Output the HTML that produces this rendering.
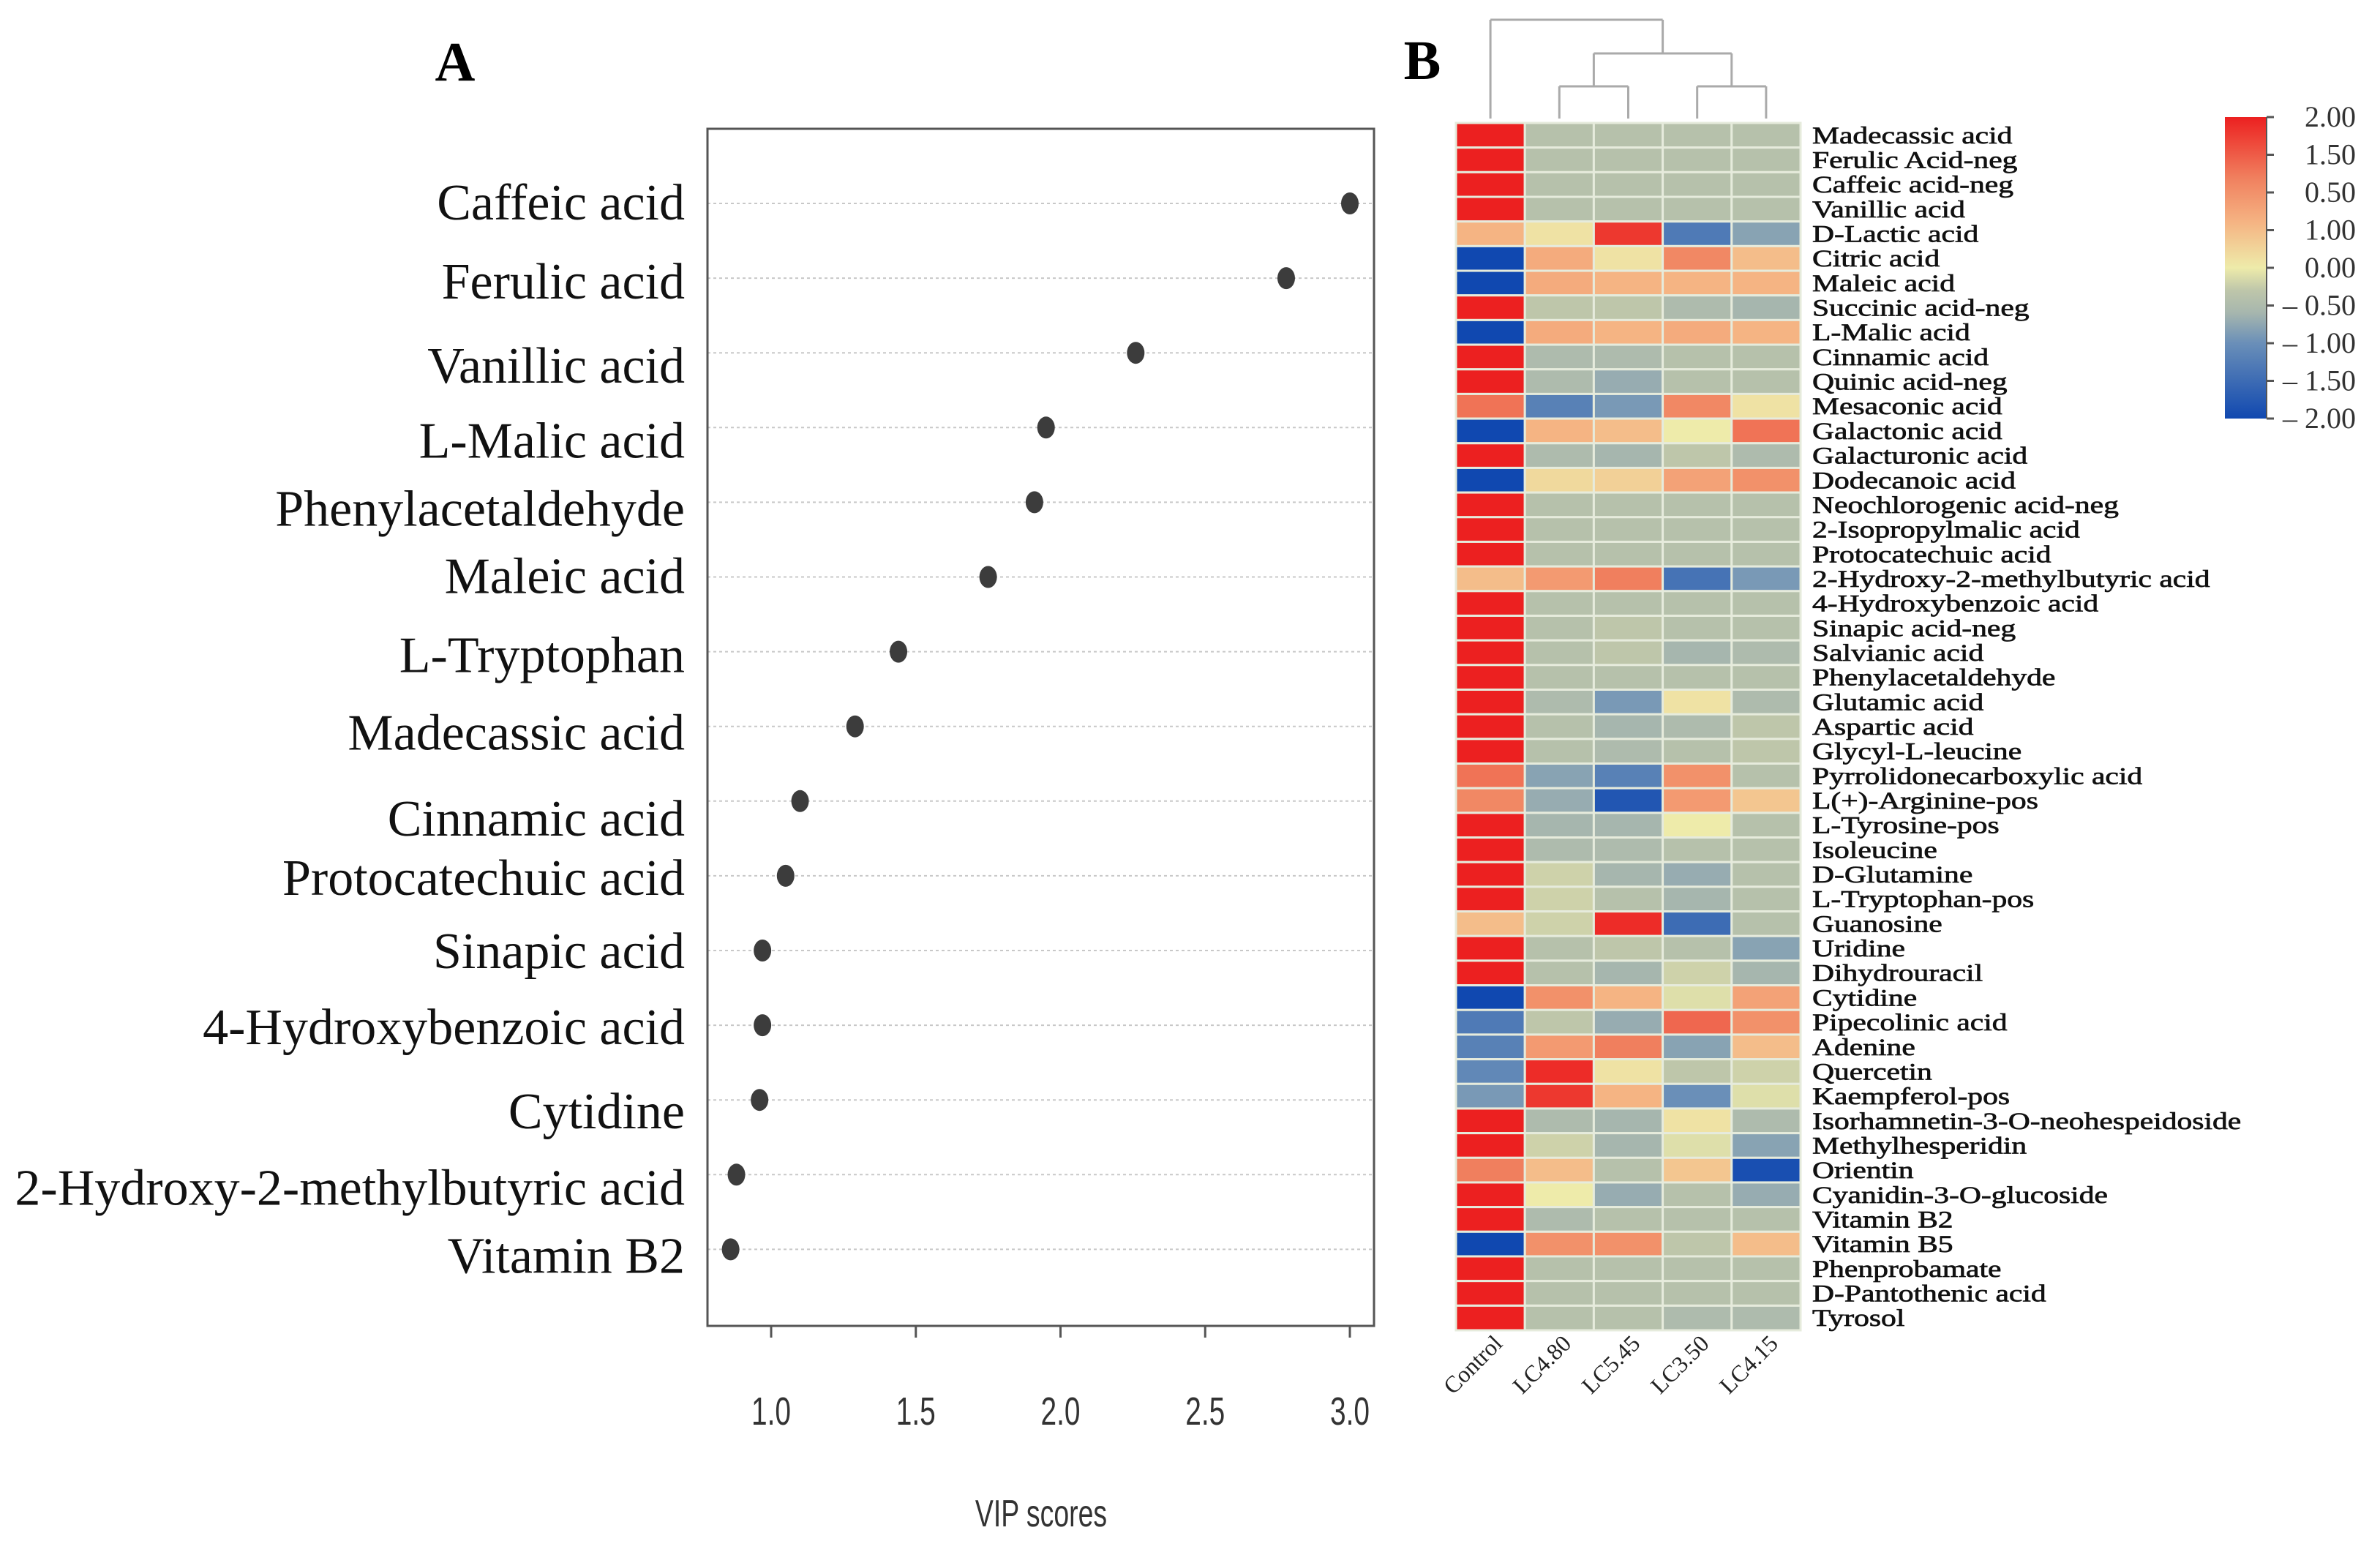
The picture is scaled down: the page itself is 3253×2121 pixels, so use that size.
<!DOCTYPE html>
<html><head><meta charset="utf-8">
<style>
html,body{margin:0;padding:0;background:#fff;}
svg{display:block;}
.serif{font-family:"Liberation Serif","DejaVu Serif",serif;}
.sans{font-family:"Liberation Sans","DejaVu Sans",sans-serif;}
</style></head>
<body>
<svg id="fig" width="3253" height="2121" viewBox="0 0 3253 2121" xmlns="http://www.w3.org/2000/svg">
<g id="panelA"></g>
<g id="panelB"></g>
</svg>
<script>
// ---- Panel A data ----
const vipNames = ["Caffeic acid","Ferulic acid","Vanillic acid","L-Malic acid","Phenylacetaldehyde","Maleic acid","L-Tryptophan","Madecassic acid","Cinnamic acid","Protocatechuic acid","Sinapic acid","4-Hydroxybenzoic acid","Cytidine","2-Hydroxy-2-methylbutyric acid","Vitamin B2"];
const vipScores = [3.00,2.78,2.26,1.95,1.91,1.75,1.44,1.29,1.10,1.05,0.97,0.97,0.96,0.88,0.86];
const vipTicks = [1.0,1.5,2.0,2.5,3.0];
const vipTickLabels = ["1.0","1.5","2.0","2.5","3.0"];

// ---- Panel B data ----
const hmCols = ["Control","LC4.80","LC5.45","LC3.50","LC4.15"];
const hmRows = ["Madecassic acid","Ferulic Acid-neg","Caffeic acid-neg","Vanillic acid","D-Lactic acid","Citric acid","Maleic acid","Succinic acid-neg","L-Malic acid","Cinnamic acid","Quinic acid-neg","Mesaconic acid","Galactonic acid","Galacturonic acid","Dodecanoic acid","Neochlorogenic acid-neg","2-Isopropylmalic acid","Protocatechuic acid","2-Hydroxy-2-methylbutyric acid","4-Hydroxybenzoic acid","Sinapic acid-neg","Salvianic acid","Phenylacetaldehyde","Glutamic acid","Aspartic acid","Glycyl-L-leucine","Pyrrolidonecarboxylic acid","L(+)-Arginine-pos","L-Tyrosine-pos","Isoleucine","D-Glutamine","L-Tryptophan-pos","Guanosine","Uridine","Dihydrouracil","Cytidine","Pipecolinic acid","Adenine","Quercetin","Kaempferol-pos","Isorhamnetin-3-O-neohespeidoside","Methylhesperidin","Orientin","Cyanidin-3-O-glucoside","Vitamin B2","Vitamin B5","Phenprobamate","D-Pantothenic acid","Tyrosol"];
const hmControl = [2,2,2,2,0.6,-2,-2,2,-2,2,2,1.3,-2,2,-2,2,2,2,0.5,2,2,2,2,2,2,2,1.3,1.1,2,2,2,2,0.5,2,2,-2,-1.3,-1.2,-1.1,-0.9,2,2,1.2,2,2,-2,2,2,2];
const hmLC480 = [-0.4,-0.4,-0.4,-0.4,0.1,0.7,0.7,-0.3,0.7,-0.5,-0.5,-1.2,0.6,-0.5,0.2,-0.4,-0.4,-0.4,0.9,-0.4,-0.4,-0.4,-0.4,-0.5,-0.4,-0.4,-0.8,-0.7,-0.6,-0.5,-0.2,-0.2,-0.2,-0.4,-0.4,1.0,-0.3,0.9,1.9,1.8,-0.5,-0.2,0.5,0.0,-0.5,1.0,-0.4,-0.4,-0.4];
const hmLC545 = [-0.4,-0.4,-0.4,-0.4,1.8,0.1,0.6,-0.3,0.6,-0.5,-0.7,-0.9,0.5,-0.6,0.3,-0.4,-0.4,-0.4,1.2,-0.4,-0.3,-0.3,-0.4,-0.9,-0.6,-0.5,-1.2,-1.8,-0.6,-0.5,-0.6,-0.4,1.9,-0.3,-0.6,0.6,-0.7,1.2,0.1,0.6,-0.6,-0.6,-0.4,-0.7,-0.4,1.0,-0.4,-0.4,-0.4];
const hmLC350 = [-0.4,-0.4,-0.4,-0.4,-1.3,1.1,0.6,-0.5,0.7,-0.4,-0.4,1.1,0.0,-0.3,0.8,-0.4,-0.4,-0.4,-1.4,-0.4,-0.4,-0.6,-0.4,0.1,-0.5,-0.4,1.0,0.9,0.0,-0.4,-0.7,-0.6,-1.5,-0.4,-0.2,-0.1,1.4,-0.8,-0.3,-1.0,0.1,-0.1,0.4,-0.4,-0.4,-0.3,-0.4,-0.4,-0.5];
const hmLC415 = [-0.4,-0.4,-0.4,-0.4,-0.8,0.5,0.6,-0.6,0.6,-0.4,-0.4,0.1,1.3,-0.5,1.0,-0.4,-0.4,-0.4,-0.9,-0.4,-0.4,-0.5,-0.4,-0.5,-0.3,-0.3,-0.4,0.4,-0.4,-0.4,-0.4,-0.4,-0.4,-0.8,-0.6,0.8,1.0,0.5,-0.2,-0.1,-0.5,-0.8,-1.9,-0.7,-0.4,0.5,-0.4,-0.4,-0.5];
const hmSeries = [hmControl,hmLC480,hmLC545,hmLC350,hmLC415];
const cbarTickValues = [2,1.5,1,0.5,0,-0.5,-1,-1.5,-2];
const cbarTickLabels = ["2.00","1.50","0.50","1.00","0.00","\u2013 0.50","\u2013 1.00","\u2013 1.50","\u2013 2.00"];

const NS="http://www.w3.org/2000/svg";
function mk(tag,attrs,parent){const e=document.createElementNS(NS,tag);for(const k in attrs)e.setAttribute(k,attrs[k]);parent.appendChild(e);return e;}

// ===== Panel A =====
const A=document.getElementById('panelA');
const boxL=967,boxR=1878,boxT=176,boxB=1812;
const labelShift=[0,6,19,19,10,0,6,10,25,4,2,4,17,19,10]; // layout offsets of labels (px)
const xA=v=>1054+(v-1.0)*395.5;
const yA=i=>278+i*102.1;
let t=mk('text',{x:622,y:110,'font-size':76,'font-weight':'bold','text-anchor':'middle',class:'serif'},A);t.textContent='A';


vipNames.forEach((n,i)=>{
  let g=mk('line',{x1:boxL,x2:boxR,y1:yA(i),y2:yA(i),stroke:'#c8c8c8','stroke-width':2,'stroke-dasharray':'4 4'},A);
  
  
  let l=mk('text',{x:936,y:yA(i)+22+labelShift[i],'font-size':70,'text-anchor':'end',class:'serif',fill:'#111'},A);l.textContent=n;
  
  
  let d=mk('ellipse',{cx:xA(vipScores[i]),cy:yA(i),rx:12,ry:15,fill:'#3c3c3c'},A);
  
  
});
let bx=mk('rect',{x:boxL,y:boxT,width:boxR-boxL,height:boxB-boxT,fill:'none',stroke:'#555','stroke-width':3},A);


vipTicks.forEach((v,i)=>{
  let tk=mk('line',{x1:xA(v),x2:xA(v),y1:boxB,y2:boxB+16,stroke:'#555','stroke-width':3},A);
  
  
  let tl=mk('text',{x:0,y:0,'font-size':54,'text-anchor':'middle',class:'sans',fill:'#333',transform:`translate(${xA(v)},1947) scale(0.72,1)`},A);tl.textContent=vipTickLabels[i];
  
  
});
t=mk('text',{x:0,y:0,'font-size':52,'text-anchor':'middle',class:'sans',fill:'#333',transform:'translate(1423,2086) scale(0.72,1)'},A);t.textContent='VIP scores';



// ===== Panel B =====
const B=document.getElementById('panelB');
const hL=1990,hR=2461,hT=168,hB=1818;
const cw=(hR-hL)/hmCols.length, rh=(hB-hT)/hmRows.length;
const stops=[[-2,[16,72,176]],[-1,[106,143,184]],[-0.6,[166,182,174]],[-0.3,[190,198,170]],[0,[238,235,170]],[0.6,[245,180,131]],[1.2,[240,127,94]],[2,[236,32,32]]];
function cmap(v){v=Math.max(-2,Math.min(2,v));for(let i=0;i<stops.length-1;i++){const[a,ca]=stops[i],[b,cb]=stops[i+1];if(v<=b){const f=(v-a)/(b-a);return 'rgb('+ca.map((c,j)=>Math.round(c+(cb[j]-c)*f)).join(',')+')';}}return 'rgb(236,32,32)';}
t=mk('text',{x:1944,y:108,'font-size':76,'font-weight':'bold','text-anchor':'middle',class:'serif'},B);t.textContent='B';


hmSeries.forEach((ser,c)=>{
  ser.forEach((v,r)=>{
    let cell=mk('rect',{x:hL+c*cw,y:hT+r*rh,width:cw,height:rh,fill:cmap(v),stroke:'#e6ebdc','stroke-width':3},B);
    
    
  });
});
hmRows.forEach((n,r)=>{
  let l=mk('text',{x:0,y:0,'font-size':33,class:'serif',fill:'#111',stroke:'#111','stroke-width':0.7,transform:`translate(2477,${hT+r*rh+rh/2+11}) scale(1.26,1)`},B);l.textContent=n;
  
  
});
hmCols.forEach((n,c)=>{
  const cx=hL+c*cw+cw/2+18;
  let l=mk('text',{x:0,y:0,'font-size':32,'text-anchor':'end',class:'serif',fill:'#222',transform:`translate(${cx},1838) rotate(-45)`},B);l.textContent=n;
  
  
});
// dendrogram
const colX=i=>hL+i*cw+cw/2;
const dend=mk('g',{stroke:'#aaa','stroke-width':3,fill:'none'},B);


const yTop=27,yMid=73,yLow=118,yBase=162;
const pL=(colX(1)+colX(2))/2,pR=(colX(3)+colX(4))/2,pM=(pL+pR)/2;
[[colX(1),yBase,colX(1),yLow],[colX(2),yBase,colX(2),yLow],[colX(1),yLow,colX(2),yLow],
 [colX(3),yBase,colX(3),yLow],[colX(4),yBase,colX(4),yLow],[colX(3),yLow,colX(4),yLow],
 [pL,yLow,pL,yMid],[pR,yLow,pR,yMid],[pL,yMid,pR,yMid],
 [colX(0),yBase,colX(0),yTop],[pM,yMid,pM,yTop],[colX(0),yTop,pM,yTop]].forEach(s=>{
  mk('line',{x1:s[0],y1:s[1],x2:s[2],y2:s[3]},dend);
});
// colorbar
const defs=mk('defs',{},B);
const grad=mk('linearGradient',{id:'cb',x1:0,y1:1,x2:0,y2:0},defs);
stops.forEach(s=>mk('stop',{offset:((s[0]+2)/4*100)+'%','stop-color':cmap(s[0])},grad));
const cbT=160,cbB=572;
let cb=mk('rect',{x:3041,y:cbT,width:56,height:cbB-cbT,fill:'url(#cb)'},B);


mk('line',{x1:3098,x2:3098,y1:cbT,y2:cbB,stroke:'#555','stroke-width':2},B);
const yCb=v=>cbT+(2-v)/4*(cbB-cbT);
cbarTickValues.forEach((v,i)=>{
  mk('line',{x1:3098,x2:3108,y1:yCb(v),y2:yCb(v),stroke:'#555','stroke-width':3},B);
  let l=mk('text',{x:3220,y:yCb(v)+13,'font-size':40,'text-anchor':'end',class:'serif',fill:'#333'},B);l.textContent=cbarTickLabels[i];
  
  
});
</script>
</body></html>
